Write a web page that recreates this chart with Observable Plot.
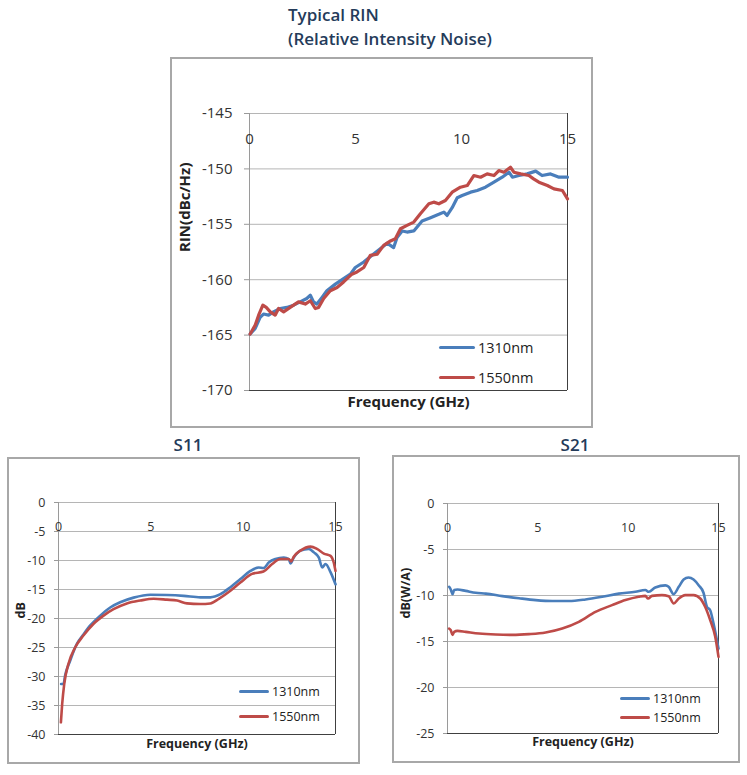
<!DOCTYPE html>
<html><head><meta charset="utf-8">
<script src="https://cdn.jsdelivr.net/npm/d3@7"></script>
<script src="https://cdn.jsdelivr.net/npm/@observablehq/plot@0.6"></script>
<style>
body{margin:0;background:#fff;font-family:"Open Sans",sans-serif;}
#page{position:relative;width:747px;height:775px;overflow:hidden;background:#fff;}
.box{position:absolute;border:2px solid #a8a8a8;box-sizing:border-box;}
.title{position:absolute;font-size:17px;line-height:24px;color:#243b5a;font-weight:600;white-space:nowrap;}
.leg{position:absolute;display:flex;align-items:center;white-space:nowrap;color:#222;height:20px;}
.leg .sw{display:inline-block;height:3px;border-radius:1.5px;margin-right:3px;}
</style></head>
<body><div id="page"></div>
<script>
// ---------- data ----------
const seriesNames = ["1310nm", "1550nm"];
const seriesColors = ["#4a7ebb", "#be4b48"];
const xTicks = [0, 5, 10, 15];

const rinTicks = [-170, -165, -160, -155, -150, -145];
const rin1310F = [0.03,0.27,0.5,0.66,0.9,1.13,1.45,1.76,2.08,2.39,2.7,2.87,3.02,3.18,3.42,3.65,4.05,4.44,4.76,4.99,5.39,5.78,6.17,6.49,6.8,6.96,7.2,7.43,7.75,8.14,8.54,8.93,9.17,9.32,9.56,9.8,10.03,10.43,10.74,11.13,11.53,11.92,12.24,12.4,12.71,13.1,13.5,13.8,14.2,14.6,15.0];
const rin1310 = [-164.9,-164.4,-163.4,-163.1,-163.2,-162.9,-162.6,-162.5,-162.3,-162.0,-161.7,-161.4,-162.0,-162.2,-161.6,-161.0,-160.4,-159.9,-159.5,-158.9,-158.4,-157.8,-157.2,-156.7,-157.1,-156.2,-155.6,-155.7,-155.6,-154.7,-154.4,-154.1,-153.9,-154.2,-153.5,-152.6,-152.4,-152.1,-151.95,-151.65,-151.2,-150.75,-150.3,-150.75,-150.6,-150.45,-150.2,-150.6,-150.45,-150.75,-150.75];
const rin1550F = [0.03,0.27,0.43,0.63,0.79,0.98,1.21,1.37,1.61,1.92,2.31,2.63,2.87,3.1,3.26,3.5,3.81,4.13,4.44,4.83,5.07,5.39,5.7,6.02,6.33,6.65,6.88,7.12,7.43,7.75,8.06,8.46,8.69,8.93,9.24,9.56,9.95,10.27,10.58,10.9,11.21,11.53,11.76,12.0,12.31,12.47,12.79,13.18,13.4,13.65,14.05,14.36,14.76,15.0];
const rin1550 = [-164.9,-164.1,-163.2,-162.3,-162.5,-162.9,-163.2,-162.6,-162.9,-162.5,-162.0,-162.2,-161.9,-162.6,-162.5,-161.7,-161.0,-160.7,-160.2,-159.5,-159.3,-158.9,-157.8,-157.7,-156.9,-156.5,-156.3,-155.4,-155.1,-154.8,-154.05,-153.15,-153.0,-153.15,-152.85,-152.1,-151.65,-151.5,-150.6,-150.75,-150.45,-150.6,-150.15,-150.3,-149.85,-150.3,-150.45,-150.6,-150.9,-151.2,-151.5,-151.8,-151.95,-152.7];

const s11Ticks = [-40, -35, -30, -25, -20, -15, -10, -5, 0];
const s11_1310F = [0.14,0.27,0.36,0.63,0.99,1.36,1.72,2.26,2.8,3.34,4.07,4.97,5.87,6.78,7.68,8.22,8.77,9.31,9.85,10.39,10.84,11.1,11.4,11.75,12.2,12.47,12.56,12.74,13.1,13.55,13.83,14.1,14.28,14.46,14.73,15.0];
const s11_1310 = [-31.3,-31.3,-29.8,-27.3,-24.4,-22.7,-21.2,-19.5,-18.1,-17.2,-16.4,-15.9,-15.95,-16.1,-16.35,-16.35,-15.8,-14.6,-13.2,-11.8,-11.2,-11.3,-10.3,-9.75,-9.5,-9.75,-10.5,-9.5,-8.3,-8.0,-8.6,-9.5,-11.2,-10.6,-12.0,-14.1];
const s11_1550F = [0.13,0.2,0.31,0.54,0.9,1.36,1.9,2.44,2.98,3.7,4.43,5.15,5.87,6.42,6.96,7.68,8.22,8.68,9.31,9.85,10.48,11.1,11.57,12.02,12.47,12.6,12.74,13.1,13.65,14.0,14.37,14.73,14.9,15.0];
const s11_1550 = [-37.9,-34.7,-31.3,-27.8,-25.0,-22.9,-20.9,-19.5,-18.4,-17.4,-16.9,-16.6,-16.75,-16.9,-17.4,-17.5,-17.4,-16.6,-15.2,-13.8,-12.3,-11.9,-10.6,-9.75,-9.75,-10.15,-9.35,-8.3,-7.6,-8.0,-8.8,-9.2,-10.3,-11.8];

const s21Ticks = [-25, -20, -15, -10, -5, 0];
const s21_1310F = [0.09,0.18,0.28,0.37,0.55,1.01,1.56,2.12,3.04,3.96,4.88,5.8,6.72,7.64,8.56,9.48,10.4,10.95,11.14,11.5,12.06,12.24,12.52,12.8,13.07,13.34,13.62,13.9,14.17,14.36,14.54,14.72,15.0];
const s21_1310 = [-9.06,-9.35,-9.85,-9.4,-9.35,-9.5,-9.7,-9.8,-10.07,-10.3,-10.5,-10.6,-10.6,-10.43,-10.14,-9.8,-9.6,-9.4,-9.6,-9.13,-8.9,-9.06,-9.85,-9.06,-8.26,-8.04,-8.26,-8.88,-9.7,-11.23,-11.6,-13.0,-15.76];
const s21_1550F = [0.09,0.18,0.28,0.37,0.55,1.01,1.75,2.67,3.59,4.51,5.43,6.35,7.27,8.19,9.11,9.85,10.58,10.95,11.1,11.32,11.87,12.24,12.52,12.8,13.16,13.62,13.99,14.26,14.54,14.82,15.0];
const s21_1550 = [-13.6,-13.77,-14.3,-13.95,-13.84,-13.95,-14.13,-14.24,-14.28,-14.2,-14.02,-13.59,-12.86,-11.78,-11.05,-10.5,-10.14,-10.04,-10.33,-10.04,-9.96,-10.07,-10.87,-10.33,-9.96,-9.96,-10.33,-11.23,-12.68,-14.49,-16.67];

// ---------- helpers ----------
const page = document.getElementById("page");
function rows(xs, ys) { return xs.map((x, i) => ({x, y: ys[i]})); }

function chart(o) {
  const svg = Plot.plot({
    width: o.width, height: o.height,
    marginTop: o.mt, marginRight: o.mr, marginBottom: o.mb, marginLeft: o.ml,
    style: {fontFamily: "'Open Sans', sans-serif", fontSize: o.fs + "px", color: "#333", background: "transparent", overflow: "visible"},
    x: {domain: [0, 15], axis: null},
    y: {domain: [o.yTicks[0], o.yTicks[o.yTicks.length - 1]], axis: null},
    marks: [
      Plot.gridY(o.yTicks, {stroke: "#b5b5b5", strokeOpacity: 1}),
      Plot.axisY(o.yTicks, {anchor: "left", tickSize: o.tickSize, tickPadding: o.tickPad, stroke: "#9a9a9a", label: null, fontSize: o.fs, tickFormat: d => String(d)}),
      Plot.ruleX([0], {stroke: "#9a9a9a"}),
      Plot.ruleX([15], {stroke: "#404040"}),
      Plot.ruleY([o.yTicks[0]], {stroke: "#404040"}),
      Plot.text(xTicks, {x: d => d, frameAnchor: "top", dy: 20, text: d => String(d), fontSize: o.fs, fill: "#333"}),
      ...o.series.map((s, i) => Plot.line(s, {x: "x", y: "y", stroke: seriesColors[i], strokeWidth: o.sw, curve: o.curve})),
      Plot.text([o.xTitle], {frameAnchor: "bottom", dy: o.xTitleDy, text: d => d, fontWeight: "bold", fontSize: o.titleFs, fill: "#222"}),
      Plot.text([o.yTitle], {frameAnchor: "left", dx: o.yTitleDx, rotate: -90, text: d => d, fontWeight: "bold", fontSize: o.titleFs, fill: "#222"})
    ]
  });
  svg.style.position = "absolute";
  svg.style.left = o.left + "px";
  svg.style.top = o.top + "px";
  svg.style.maxWidth = "none";
  const box = document.createElement("div");
  box.className = "box";
  Object.assign(box.style, {left: o.left + "px", top: o.top + "px", width: o.width + "px", height: o.height + "px"});
  page.appendChild(box);
  page.appendChild(svg);
}

function legend(x, ys, len, fs) {
  seriesNames.forEach((name, i) => {
    const d = document.createElement("div");
    d.className = "leg";
    Object.assign(d.style, {left: x + "px", top: (ys[i] - 10) + "px", fontSize: fs + "px"});
    const sw = document.createElement("span");
    sw.className = "sw";
    sw.style.width = len + "px";
    sw.style.background = seriesColors[i];
    d.appendChild(sw);
    d.appendChild(document.createTextNode(name));
    page.appendChild(d);
  });
}

function title(text, x, y, align) {
  const d = document.createElement("div");
  d.className = "title";
  d.innerHTML = text;
  d.style.left = x + "px";
  d.style.top = y + "px";
  if (align === "center") d.style.transform = "translateX(-50%)";
  page.appendChild(d);
}

// ---------- charts ----------
title("Typical RIN<br>(Relative Intensity Noise)", 288, 3);
chart({left: 170, top: 57, width: 423, height: 371, mt: 56, mr: 26, mb: 38, ml: 79,
  yTicks: rinTicks, fs: 15, tickSize: 5, tickPad: 12, sw: 3.2, curve: "linear",
  series: [rows(rin1310F, rin1310), rows(rin1550F, rin1550)],
  xTitle: "Frequency (GHz)", xTitleDy: 16, yTitle: "RIN(dBc/Hz)", yTitleDx: -64, titleFs: 15});
legend(439, [347, 377], 36, 14.5);

title("S11", 188, 433, "center");
chart({left: 7, top: 457, width: 353, height: 307, mt: 45, mr: 25, mb: 30, ml: 51,
  yTicks: s11Ticks, fs: 12.5, tickSize: 4, tickPad: 9, sw: 2.6, curve: "monotone-x",
  series: [rows(s11_1310F, s11_1310), rows(s11_1550F, s11_1550)],
  xTitle: "Frequency (GHz)", xTitleDy: 13, yTitle: "dB", yTitleDx: -38, titleFs: 12.5});
legend(239, [691, 716], 30, 12.5);

title("S21", 575, 433, "center");
chart({left: 392, top: 455, width: 348, height: 308, mt: 48, mr: 22, mb: 30, ml: 55,
  yTicks: s21Ticks, fs: 12.5, tickSize: 4, tickPad: 9, sw: 2.6, curve: "monotone-x",
  series: [rows(s21_1310F, s21_1310), rows(s21_1550F, s21_1550)],
  xTitle: "Frequency (GHz)", xTitleDy: 12, yTitle: "dB(W/A)", yTitleDx: -42, titleFs: 12.5});
legend(620, [698, 717], 30, 12.5);
</script></body></html>
